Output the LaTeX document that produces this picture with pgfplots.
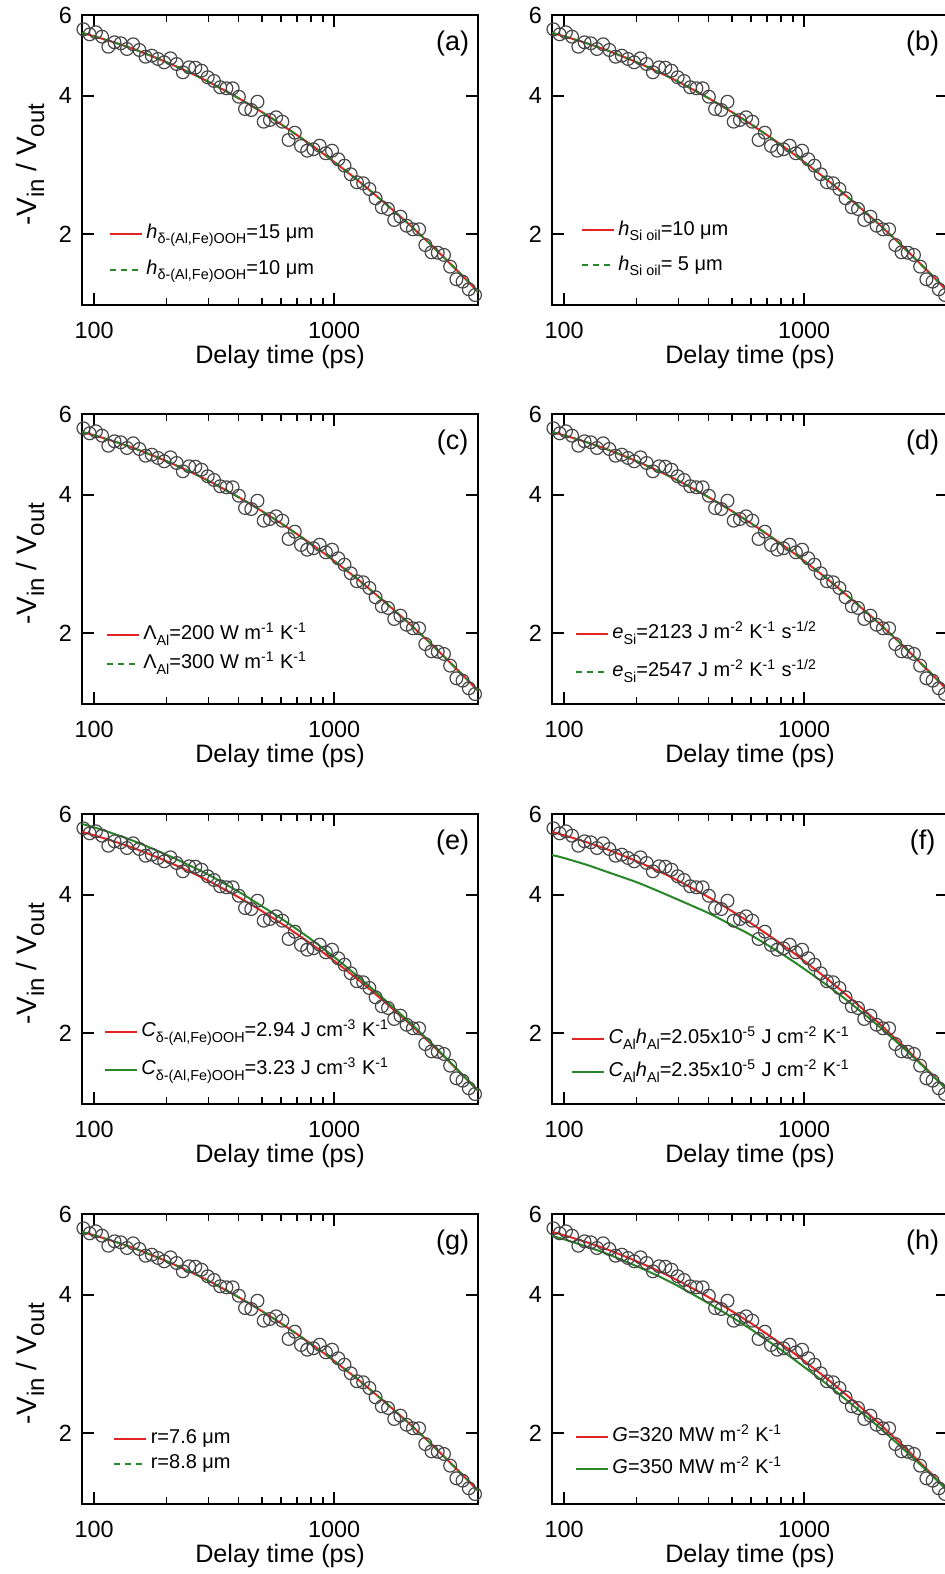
\documentclass[border=0pt]{standalone}
\usepackage{fontspec}
\setmainfont{Liberation Sans}
\usepackage{pgfplots}
\usepackage{pgfplotstable}
\pgfplotsset{compat=1.18}

\definecolor{fitred}{RGB}{226,36,36}
\definecolor{fitgreen}{RGB}{40,135,40}
\definecolor{mk}{RGB}{70,70,70}

% measured ratio (same data set in every panel)
\pgfplotstableread{
t v
90.2 5.585
95.8 5.446
101.7 5.501
107.9 5.381
114.6 5.117
121.6 5.232
129.1 5.206
137.0 5.059
145.4 5.180
154.3 5.034
163.8 4.867
173.9 4.892
184.6 4.812
195.9 4.732
208.0 4.828
220.7 4.692
234.3 4.501
248.7 4.615
264.0 4.606
280.2 4.537
297.4 4.390
315.8 4.309
335.2 4.175
355.8 4.154
377.7 4.154
400.9 3.982
425.5 3.744
451.7 3.725
479.4 3.883
509.0 3.513
540.2 3.543
573.4 3.591
608.7 3.513
646.1 3.205
685.9 3.324
728.0 3.110
772.7 3.037
820.3 3.059
870.7 3.114
924.0 2.998
980.8 3.037
1041 2.909
1105 2.817
1173 2.698
1245 2.592
1322 2.579
1403 2.506
1489 2.392
1581 2.286
1678 2.267
1781 2.145
1890 2.181
2006 2.084
2130 2.047
2261 2.047
2400 1.892
2547 1.824
2704 1.820
2870 1.800
3046 1.697
3234 1.593
3432 1.574
3644 1.515
3867 1.472
}\meas

% model curves: best fit (red) and the varied ones of panels e, f, h
\pgfplotstableread{
t red ge gf gh
89 5.482 5.707 4.884 5.372
100 5.392 5.613 4.810 5.284
125 5.201 5.399 4.644 5.087
150 5.031 5.212 4.493 4.920
200 4.737 4.893 4.263 4.619
250 4.494 4.633 4.063 4.382
300 4.289 4.422 3.899 4.173
400 3.952 4.063 3.648 3.833
500 3.686 3.778 3.435 3.575
600 3.469 3.556 3.268 3.365
800 3.130 3.202 2.983 3.036
1000 2.871 2.928 2.759 2.785
1250 2.621 2.660 2.537 2.550
1500 2.421 2.452 2.361 2.360
2000 2.125 2.142 2.089 2.083
2500 1.906 1.916 1.887 1.877
3000 1.737 1.742 1.728 1.720
3500 1.603 1.603 1.599 1.595
4000 1.491 1.491 1.491 1.487
}\fits

% lowered subscript of a given size
\newcommand\lo[2]{\raisebox{-0.26em}{\fontsize{#1}{#1}\selectfont #2}}

\pgfplotsset{
  every axis/.append style={
    scale only axis, width=198pt, height=145pt,
    anchor=north west,
    xmin=89, xmax=3980, ymin=1.40, ymax=6,
    xtick={100,1000}, xticklabels={100,1000},
    ytick={2,4,6}, yticklabels={2,4,6},
    yminorticks=false,
    tick align=inside, tick pos=both,
    major tick length=6pt, minor tick length=3.5pt,
    tick style={black, line width=0.8pt},
    axis line style={line width=0.8pt},
    tick label style={font=\fontsize{11.7}{14}\selectfont},
    xticklabel shift=5pt,
    yticklabel shift=1.5pt,
    xlabel={Delay time (ps)},
    xlabel style={font=\fontsize{12.6}{15}\selectfont, at={(axis description cs:0.5,0)}, anchor=base, yshift=-29.2pt},
    ylabel style={font=\fontsize{14}{16}\selectfont, at={(axis description cs:-0.114,0.483)}, anchor=base},
    legend cell align=left,
  },
  every axis legend/.append style={draw=none, fill=none, anchor=north west,
    font=\fontsize{10}{12}\selectfont, inner sep=0pt,
    nodes={inner xsep=1.75pt, inner ysep=0pt, text height=7pt, text depth=2pt}},
  legend image code/.code={\draw[#1] (0pt,0pt) -- (16pt,0pt);},
}

\newcommand\plabel[1]{\node[font=\fontsize{13.5}{15}\selectfont] at (rel axis cs:0.936,0.903) {#1};}
\newcommand\ylab{-V\lo{12}{in} / V\lo{12}{out}}
\newcommand\measplot{\addplot[only marks, mark=o, mark size=3.2pt, mark options={draw=mk, line width=0.6pt}, forget plot] table[x=t,y=v]{\meas};}
\newcommand\redplot{\addplot[fitred, line width=1pt, smooth, no markers] table[x=t,y=red]{\fits};}

\begin{document}
\begin{tikzpicture}
\useasboundingbox (0,0) rectangle (472.5pt,-787pt);
\clip (0,0) rectangle (472.5pt,-787pt);

% (a)
\begin{loglogaxis}[at={(41pt,-7.5pt)}, ylabel={\ylab},
  legend style={at={(axis description cs:0.067,0.278)}, row sep=9pt}]
\measplot
\redplot
\addlegendentry{\textit{h}\lo{7.2}{δ-(Al,Fe)OOH}=15 μm}
\addplot[fitgreen, line width=1pt, smooth, no markers, dash pattern=on 3pt off 2.5pt] table[x=t,y=red]{\fits};
\addlegendentry{\textit{h}\lo{7.2}{δ-(Al,Fe)OOH}=10 μm}
\plabel{(a)}
\end{loglogaxis}

% (b)
\begin{loglogaxis}[at={(276pt,-7.5pt)},
  legend style={at={(axis description cs:0.072,0.291)}, row sep=8.5pt}]
\measplot
\redplot
\addlegendentry{\textit{h}\lo{7.2}{Si oil}=10 μm}
\addplot[fitgreen, line width=1pt, smooth, no markers, dash pattern=on 3pt off 2.5pt] table[x=t,y=red]{\fits};
\addlegendentry{\textit{h}\lo{7.2}{Si oil}= 5 μm}
\plabel{(b)}
\end{loglogaxis}

% (c)
\begin{loglogaxis}[at={(41pt,-207pt)}, ylabel={\ylab},
  legend style={at={(axis description cs:0.059,0.271)}, row sep=5.5pt}]
\measplot
\redplot
\addlegendentry{Λ\lo{7.2}{Al}=200 W m\textsuperscript{-1} K\textsuperscript{-1}}
\addplot[fitgreen, line width=1pt, smooth, no markers, dash pattern=on 3pt off 2.5pt] table[x=t,y=red]{\fits};
\addlegendentry{Λ\lo{7.2}{Al}=300 W m\textsuperscript{-1} K\textsuperscript{-1}}
\plabel{(c)}
\end{loglogaxis}

% (d)
\begin{loglogaxis}[at={(276pt,-207pt)},
  legend style={at={(axis description cs:0.057,0.274)}, row sep=10pt}]
\measplot
\redplot
\addlegendentry{\textit{e}\lo{7.2}{Si}=2123 J m\textsuperscript{-2} K\textsuperscript{-1} s\textsuperscript{-1/2}}
\addplot[fitgreen, line width=1pt, smooth, no markers, dash pattern=on 3pt off 2.5pt] table[x=t,y=red]{\fits};
\addlegendentry{\textit{e}\lo{7.2}{Si}=2547 J m\textsuperscript{-2} K\textsuperscript{-1} s\textsuperscript{-1/2}}
\plabel{(d)}
\end{loglogaxis}

% (e)
\begin{loglogaxis}[at={(41pt,-407pt)}, ylabel={\ylab},
  legend style={at={(axis description cs:0.054,0.281)}, row sep=10pt}]
\measplot
\redplot
\addlegendentry{\textit{C}\lo{7.2}{δ-(Al,Fe)OOH}=2.94 J cm\textsuperscript{-3} K\textsuperscript{-1}}
\addplot[fitgreen, line width=1pt, smooth, no markers] table[x=t,y=ge]{\fits};
\addlegendentry{\textit{C}\lo{7.2}{δ-(Al,Fe)OOH}=3.23 J cm\textsuperscript{-3} K\textsuperscript{-1}}
\plabel{(e)}
\end{loglogaxis}

% (f)
\begin{loglogaxis}[at={(276pt,-407pt)},
  legend style={at={(axis description cs:0.047,0.257)}, row sep=7.5pt}]
\measplot
\redplot
\addlegendentry{\textit{C}\lo{7.2}{Al}\textit{h}\lo{7.2}{Al}=2.05x10\textsuperscript{-5} J cm\textsuperscript{-2} K\textsuperscript{-1}}
\addplot[fitgreen, line width=1pt, smooth, no markers] table[x=t,y=gf]{\fits};
\addlegendentry{\textit{C}\lo{7.2}{Al}\textit{h}\lo{7.2}{Al}=2.35x10\textsuperscript{-5} J cm\textsuperscript{-2} K\textsuperscript{-1}}
\plabel{(f)}
\end{loglogaxis}

% (g)
\begin{loglogaxis}[at={(41pt,-607pt)}, ylabel={\ylab},
  legend style={at={(axis description cs:0.078,0.257)}, row sep=3.5pt}]
\measplot
\redplot
\addlegendentry{r=7.6 μm}
\addplot[fitgreen, line width=1pt, smooth, no markers, dash pattern=on 3pt off 2.5pt] table[x=t,y=red]{\fits};
\addlegendentry{r=8.8 μm}
\plabel{(g)}
\end{loglogaxis}

% (h)
\begin{loglogaxis}[at={(276pt,-607pt)},
  legend style={at={(axis description cs:0.057,0.264)}, row sep=7pt}]
\measplot
\redplot
\addlegendentry{\textit{G}=320 MW m\textsuperscript{-2} K\textsuperscript{-1}}
\addplot[fitgreen, line width=1pt, smooth, no markers] table[x=t,y=gh]{\fits};
\addlegendentry{\textit{G}=350 MW m\textsuperscript{-2} K\textsuperscript{-1}}
\plabel{(h)}
\end{loglogaxis}
\end{tikzpicture}
\end{document}
